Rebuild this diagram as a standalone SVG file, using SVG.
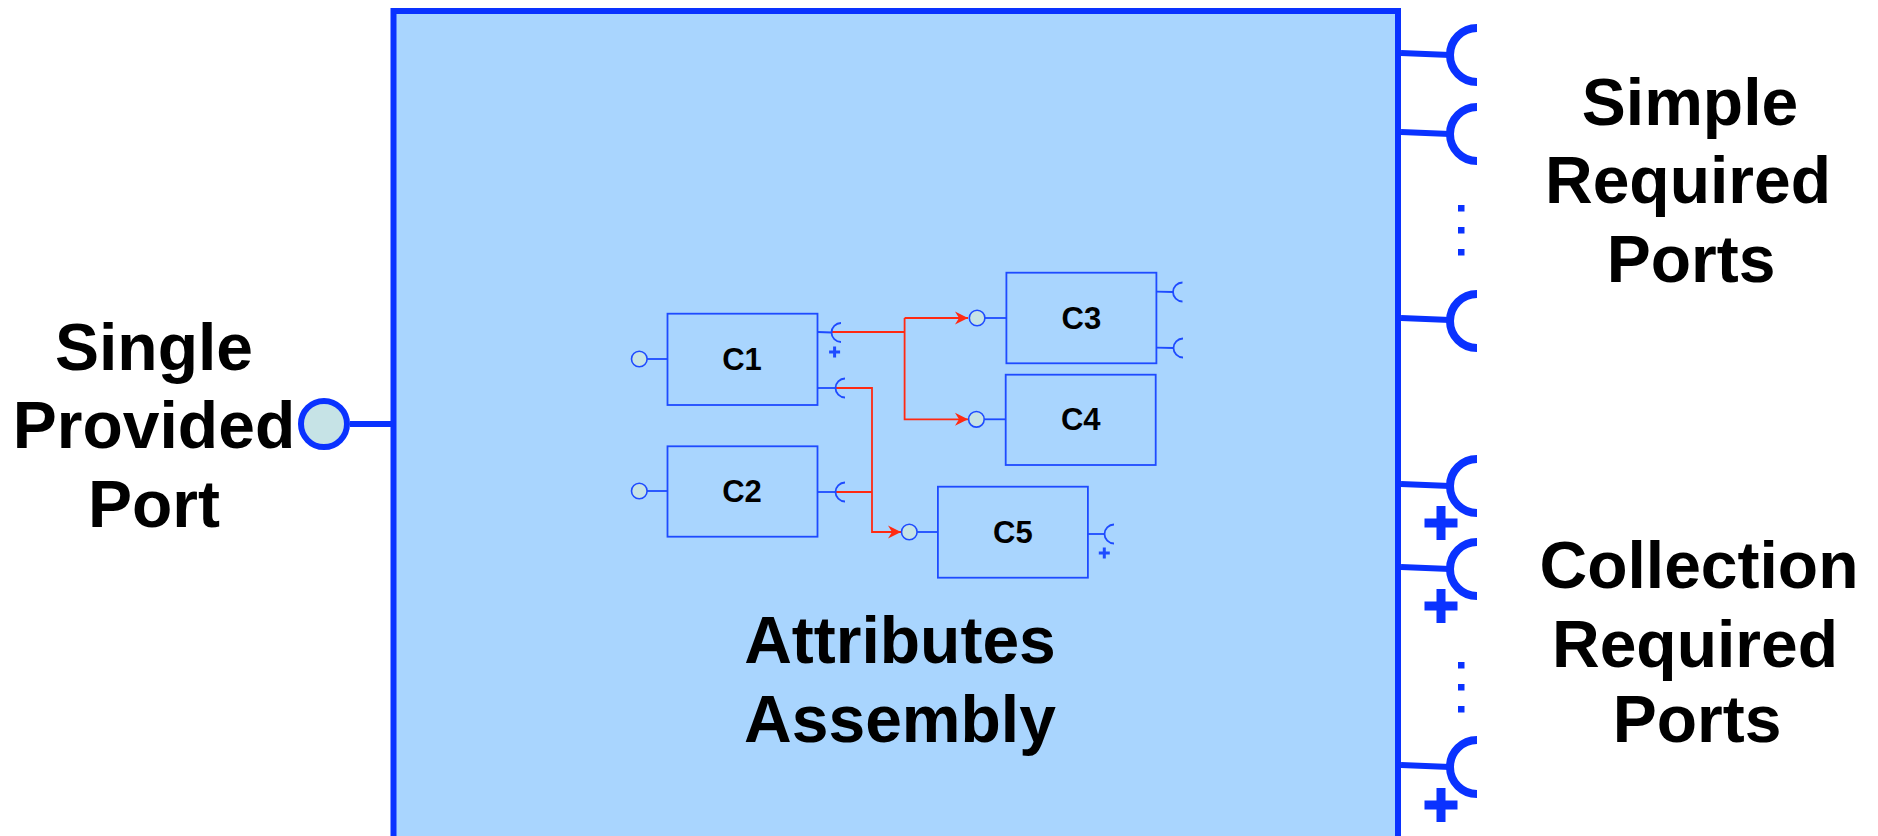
<svg xmlns="http://www.w3.org/2000/svg" width="1878" height="836" viewBox="0 0 1878 836">
  <style>
    .big { font-family: "Liberation Sans", Arial, sans-serif; font-weight: bold; font-size: 66px; fill: #000; text-anchor: middle; }
    .lbl { font-family: "Liberation Sans", Arial, sans-serif; font-weight: bold; font-size: 31px; fill: #000; text-anchor: middle; }
    .box { fill: none; stroke: #1E4BFF; stroke-width: 1.8; }
    .sl { stroke: #1E4BFF; stroke-width: 1.8; fill: none; }
    .sc { fill: #C6E3E6; stroke: #1E4BFF; stroke-width: 1.6; }
    .bl { stroke: #0A32FF; stroke-width: 6; fill: none; }
    .barc { stroke: #0A32FF; stroke-width: 8; fill: none; }
    .red { stroke: #FF2A12; stroke-width: 1.8; fill: none; }
    .dot { fill: #0A32FF; }
  </style>
  <defs>
    <marker id="arr" markerWidth="14" markerHeight="14" viewBox="0 0 14 14" refX="13" refY="7" orient="auto" markerUnits="userSpaceOnUse">
      <path d="M0,0.5 L13,7 L0,13.5 L4,7 Z" fill="#FF2A12"/>
    </marker>
    <path id="bigplus" d="M-16.5,-4.5 H-4.5 V-17 H4.5 V-4.5 H16.5 V4.5 H4.5 V17 H-4.5 V4.5 H-16.5 Z" fill="#0A32FF"/>
    <path id="smplus" d="M-5.5,-1.5 H-1.5 V-5.5 H1.5 V-1.5 H5.5 V1.5 H1.5 V5.5 H-1.5 V1.5 H-5.5 Z" fill="#1E4BFF"/>
  </defs>

  <rect width="1878" height="836" fill="#FFFFFF"/>

  <g id="assembly">
    <rect x="393.5" y="11" width="1004.5" height="840" fill="#A9D5FE" stroke="#0A32FF" stroke-width="6"/>
    <text class="big" x="900" y="663">Attributes</text>
    <text class="big" x="900" y="742">Assembly</text>
  </g>

  <g id="provided-port">
    <line class="bl" x1="350" y1="424" x2="393.5" y2="424" stroke-width="5"/>
    <circle cx="324" cy="424" r="23" fill="#C6E3E6" stroke="#0A32FF" stroke-width="6"/>
    <text class="big" x="154" y="370">Single</text>
    <text class="big" x="154" y="448">Provided</text>
    <text class="big" x="154" y="527">Port</text>
  </g>

  <g id="simple-required-ports">
    <line class="bl" x1="1401" y1="53" x2="1450" y2="55" stroke-width="5.5"/>
    <path class="barc" d="M1477,28 A27,27 0 0 0 1477,82"/>
    <line class="bl" x1="1401" y1="132" x2="1450" y2="134" stroke-width="5.5"/>
    <path class="barc" d="M1477,107 A27,27 0 0 0 1477,161"/>
    <rect class="dot" x="1458" y="205" width="6.5" height="6.5"/>
    <rect class="dot" x="1458" y="227" width="6.5" height="6.5"/>
    <rect class="dot" x="1458" y="249" width="6.5" height="6.5"/>
    <line class="bl" x1="1401" y1="318" x2="1450" y2="320" stroke-width="5.5"/>
    <path class="barc" d="M1477,294 A27,27 0 0 0 1477,348"/>
    <text class="big" x="1690" y="125">Simple</text>
    <text class="big" x="1688" y="203">Required</text>
    <text class="big" x="1691" y="282">Ports</text>
  </g>

  <g id="collection-required-ports">
    <line class="bl" x1="1401" y1="484" x2="1450" y2="486" stroke-width="5.5"/>
    <path class="barc" d="M1477,459 A27,27 0 0 0 1477,513"/>
    <use href="#bigplus" x="1441" y="523"/>
    <line class="bl" x1="1401" y1="567" x2="1450" y2="569" stroke-width="5.5"/>
    <path class="barc" d="M1477,542 A27,27 0 0 0 1477,596"/>
    <use href="#bigplus" x="1441" y="606"/>
    <rect class="dot" x="1458" y="662" width="6.5" height="6.5"/>
    <rect class="dot" x="1458" y="684" width="6.5" height="6.5"/>
    <rect class="dot" x="1458" y="706" width="6.5" height="6.5"/>
    <line class="bl" x1="1401" y1="765" x2="1450" y2="767" stroke-width="5.5"/>
    <path class="barc" d="M1477,740 A27,27 0 0 0 1477,794"/>
    <use href="#bigplus" x="1441" y="805"/>
    <text class="big" x="1699" y="588">Collection</text>
    <text class="big" x="1695" y="667">Required</text>
    <text class="big" x="1697" y="742">Ports</text>
  </g>

  <g id="connectors">
    <path class="red" d="M832,332 H904.6"/>
    <path class="red" d="M904.6,318 V419.3 H968" marker-end="url(#arr)"/>
    <path class="red" d="M904.6,318 H968" marker-end="url(#arr)"/>
    <path class="red" d="M836,388 H872 V532 H901" marker-end="url(#arr)"/>
    <path class="red" d="M836,492 H872"/>
  </g>

  <g id="C1">
    <rect class="box" x="667.5" y="313.7" width="150" height="91.3"/>
    <line class="sl" x1="647" y1="359" x2="667.5" y2="359"/>
    <circle class="sc" cx="639.3" cy="359" r="7.8"/>
    <line class="sl" x1="817.5" y1="332" x2="831.5" y2="332.5"/>
    <path class="sl" d="M841,323 A9.5,9.5 0 0 0 841,342"/>
    <use href="#smplus" x="834.6" y="352"/>
    <line class="sl" x1="817.5" y1="388" x2="835.5" y2="388"/>
    <path class="sl" d="M845,378.5 A9.5,9.5 0 0 0 845,397.5"/>
    <text class="lbl" x="742" y="370">C1</text>
  </g>

  <g id="C2">
    <rect class="box" x="667.5" y="446.3" width="150" height="90.4"/>
    <line class="sl" x1="647" y1="491" x2="667.5" y2="491"/>
    <circle class="sc" cx="639.3" cy="491" r="7.8"/>
    <line class="sl" x1="817.5" y1="492" x2="835.5" y2="492"/>
    <path class="sl" d="M845,482.5 A9.5,9.5 0 0 0 845,501.5"/>
    <text class="lbl" x="742" y="502">C2</text>
  </g>

  <g id="C3">
    <rect class="box" x="1006.4" y="272.7" width="150" height="90.6"/>
    <line class="sl" x1="985" y1="318" x2="1006.4" y2="318"/>
    <circle class="sc" cx="977.1" cy="318" r="7.8"/>
    <line class="sl" x1="1156.4" y1="291.7" x2="1173" y2="292"/>
    <path class="sl" d="M1182.5,282.5 A9.5,9.5 0 0 0 1182.5,301.5"/>
    <line class="sl" x1="1156.4" y1="347.7" x2="1173.5" y2="348"/>
    <path class="sl" d="M1183,338.5 A9.5,9.5 0 0 0 1183,357.5"/>
    <text class="lbl" x="1081.4" y="329">C3</text>
  </g>

  <g id="C4">
    <rect class="box" x="1005.7" y="374.7" width="150" height="90.3"/>
    <line class="sl" x1="984.3" y1="419.3" x2="1005.7" y2="419.3"/>
    <circle class="sc" cx="976.4" cy="419.3" r="7.8"/>
    <text class="lbl" x="1080.7" y="430">C4</text>
  </g>

  <g id="C5">
    <rect class="box" x="937.9" y="486.7" width="150" height="91"/>
    <line class="sl" x1="917.2" y1="532" x2="937.9" y2="532"/>
    <circle class="sc" cx="909.3" cy="532" r="7.8"/>
    <line class="sl" x1="1087.9" y1="534" x2="1104.6" y2="534"/>
    <path class="sl" d="M1114,524.5 A9.5,9.5 0 0 0 1114,543.5"/>
    <use href="#smplus" x="1104.3" y="553"/>
    <text class="lbl" x="1012.9" y="543">C5</text>
  </g>
</svg>
